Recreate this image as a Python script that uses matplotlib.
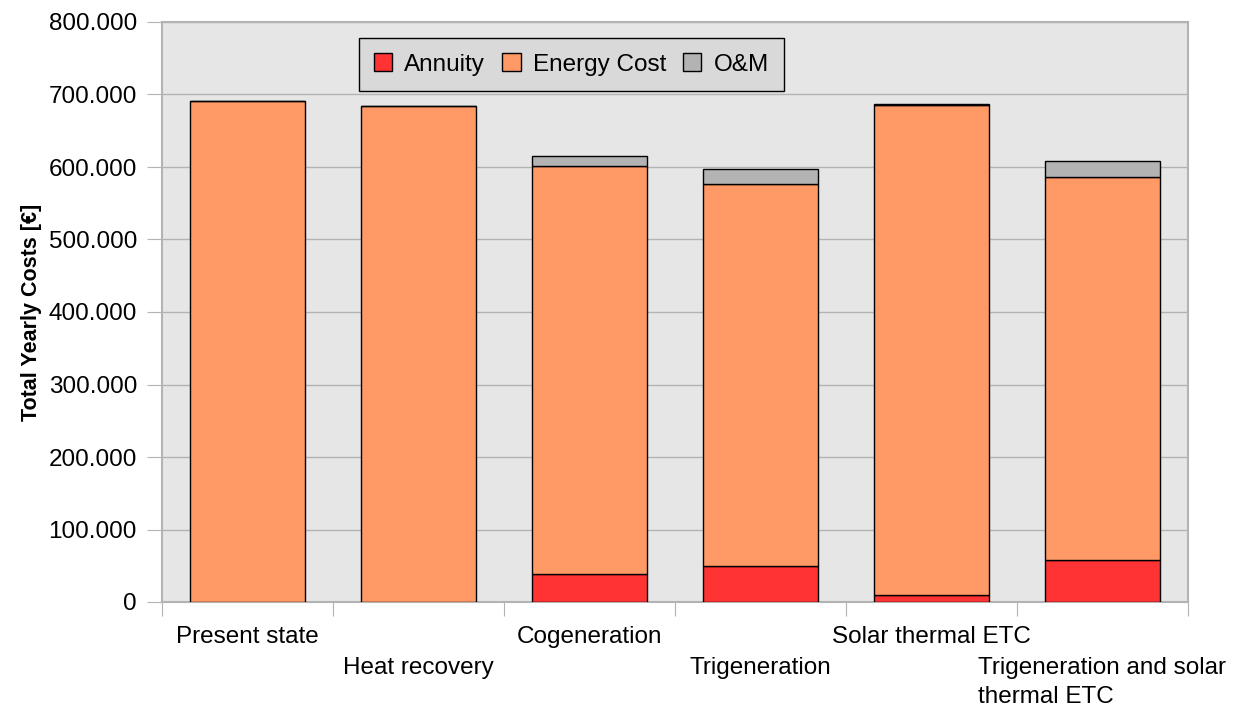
import matplotlib
matplotlib.use("Agg")
import matplotlib.pyplot as plt
from matplotlib.ticker import FuncFormatter
import numpy as np

plt.rcParams['font.family'] = ['Liberation Sans', 'DejaVu Sans']

scenarios = ["Present state", "Heat recovery", "Cogeneration", "Trigeneration",
             "Solar thermal ETC", "Trigeneration and solar\nthermal ETC"]
annuity = [0, 0, 38000, 49500, 9000, 58000]
energy_cost = [691500, 683500, 564000, 526500, 676000, 528000]
om = [0, 0, 13000, 21000, 1500, 22500]

c_annuity = "#ff3333"
c_energy = "#ff9966"
c_om = "#b3b3b3"
grid_c = "#b3b3b3"
fs = 17.5

fig = plt.figure(figsize=(12.37, 7.07), dpi=100)
ax = fig.add_axes([162/1237, 105/707, 1026/1237, 580/707])
ax.set_facecolor("#e6e6e6")

x = np.arange(len(scenarios))
w = 0.67
ax.bar(x, annuity, w, color=c_annuity, edgecolor="black", linewidth=1, label="Annuity", zorder=3)
bottom2 = np.array(annuity)
ax.bar(x, energy_cost, w, bottom=bottom2, color=c_energy, edgecolor="black", linewidth=1,
       label="Energy Cost", zorder=3)
bottom3 = bottom2 + np.array(energy_cost)
ax.bar(x, om, w, bottom=bottom3, color=c_om, edgecolor="black", linewidth=1, label="O&M", zorder=3)

ax.set_xlim(-0.5, len(scenarios) - 0.5)
ax.set_ylim(0, 800000)
ax.set_yticks(np.arange(0, 800001, 100000))
ax.yaxis.set_major_formatter(FuncFormatter(lambda v, p: "0" if v == 0 else f"{int(v):,}".replace(",", ".")))
ax.yaxis.grid(True, color=grid_c, linewidth=1, zorder=0)
ax.tick_params(axis="y", labelsize=fs, length=11, color=grid_c, pad=7)

# category boundaries as ticks, labels staggered on two rows
ax.set_xticks(np.arange(-0.5, len(scenarios) + 0.5, 1))
ax.set_xticklabels([])
ax.tick_params(axis="x", length=10, color=grid_c)
for i, name in enumerate(scenarios):
    yoff = -0.042 if i % 2 == 0 else -0.094
    ax.text(i, yoff, name, transform=ax.get_xaxis_transform(), ha="center", va="top",
            multialignment="left", fontsize=fs, linespacing=1.45)

for s in ax.spines.values():
    s.set_color(grid_c)
    s.set_linewidth(1.5)

ax.set_ylabel("Total Yearly Costs [€]", fontsize=15.5, fontweight="bold")
ax.yaxis.set_label_coords(-0.117, 0.5)

leg = ax.legend(loc="upper left", bbox_to_anchor=(0.192, 0.972), ncol=3, fontsize=fs,
                frameon=True, fancybox=False, handlelength=0.75, handleheight=0.75,
                handletextpad=0.5, columnspacing=0.7, borderpad=0.62, borderaxespad=0)
leg.get_frame().set_facecolor("#d9d9d9")
leg.get_frame().set_edgecolor("black")
leg.get_frame().set_alpha(1)
leg.get_frame().set_linewidth(1)

fig.savefig("out.png", dpi=100, facecolor="white")
